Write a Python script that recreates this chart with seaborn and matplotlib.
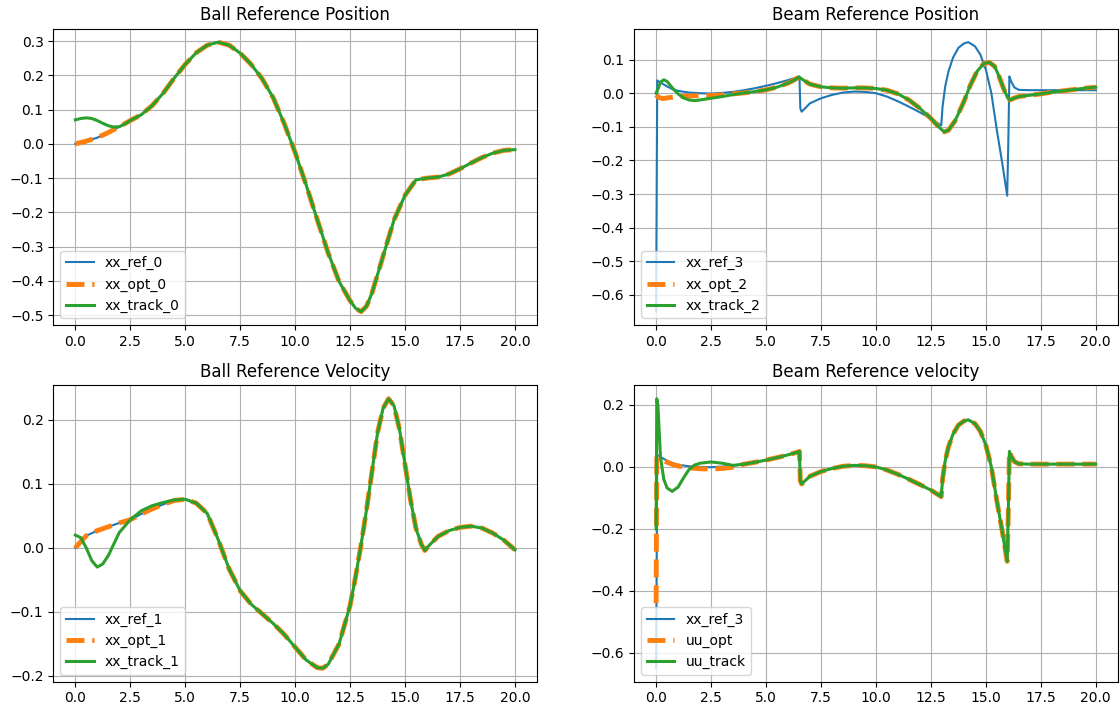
import matplotlib
matplotlib.use("Agg")
import matplotlib.pyplot as plt
import seaborn as sns

# ---------------- Ball position (top-left) ----------------
t_ball = [0, 0.5, 1, 1.5, 2, 2.5, 3, 3.5, 4, 4.5, 5, 5.5, 6, 6.5, 7, 7.5, 8, 8.5, 9, 9.5,
          10, 10.5, 11, 11.5, 12, 12.5, 12.75, 13, 13.25, 13.5, 14, 14.5, 15, 15.5, 16, 16.5,
          17, 17.5, 18, 18.5, 19, 19.5, 20]
xx_ref_0 = [0.0, 0.008, 0.018, 0.033, 0.05, 0.068, 0.085, 0.112, 0.148, 0.192, 0.232, 0.266,
            0.288, 0.297, 0.288, 0.265, 0.232, 0.19, 0.135, 0.06, -0.025, -0.12, -0.22,
            -0.318, -0.402, -0.458, -0.48, -0.49, -0.474, -0.435, -0.328, -0.222, -0.15,
            -0.105, -0.1, -0.097, -0.088, -0.073, -0.056, -0.04, -0.027, -0.019, -0.017]
xx_opt_0 = list(xx_ref_0)
t_track0_start = [0, 0.25, 0.5, 0.75, 1.0, 1.25, 1.5, 1.75, 2.0, 2.25]
xx_track_0_start = [0.07, 0.074, 0.076, 0.074, 0.068, 0.06, 0.053, 0.049, 0.05, 0.058]

# ---------------- Ball velocity (bottom-left) ----------------
t_vel = [0, 0.25, 0.5, 1.0, 1.5, 2.0, 2.5, 3.0, 3.5, 4.0, 4.5, 5.0, 5.5, 6.0, 6.5, 7.0, 7.5,
         8.0, 8.5, 9.0, 9.5, 10.0, 10.5, 11.0, 11.25, 11.5, 12.0, 12.5, 12.75, 13.0, 13.25,
         13.5, 13.75, 14.0, 14.25, 14.5, 14.75, 15.0, 15.25, 15.5, 15.75, 15.9, 16.1, 16.5,
         17.0, 17.5, 18.0, 18.5, 19.0, 19.5, 20.0]
xx_ref_1 = [0.0, 0.01, 0.019, 0.027, 0.033, 0.039, 0.044, 0.053, 0.061, 0.068, 0.074, 0.076,
            0.07, 0.054, 0.013, -0.033, -0.067, -0.088, -0.103, -0.118, -0.135, -0.155,
            -0.175, -0.187, -0.188, -0.182, -0.15, -0.09, -0.045, 0.005, 0.06, 0.12, 0.18,
            0.218, 0.233, 0.222, 0.185, 0.13, 0.075, 0.03, 0.005, -0.004, 0.004, 0.018, 0.027,
            0.032, 0.034, 0.031, 0.023, 0.012, -0.003]
xx_opt_1 = list(xx_ref_1)
t_track1_start = [0, 0.25, 0.5, 0.75, 1.0, 1.25, 1.5, 1.75, 2.0, 2.5, 3.0, 3.5, 4.0, 4.5]
xx_track_1_start = [0.02, 0.016, 0.0, -0.02, -0.03, -0.025, -0.012, 0.006, 0.024, 0.044,
                    0.058, 0.066, 0.071, 0.075]

# ---------------- Beam reference (shared by right panels) ----------------
t_ref3 = [0, 0.05, 0.25, 0.5, 0.75, 1.0, 1.5, 2.0, 2.5, 3.0, 3.5, 4.0, 4.5, 5.0, 5.5, 6.0,
          6.45, 6.52, 6.56, 6.62, 7.0, 7.5, 8.0, 8.5, 9.0, 9.5, 10.0, 10.5, 11.0, 11.5, 12.0,
          12.5, 12.97, 13.03, 13.15, 13.3, 13.5, 13.75, 14.0, 14.2, 14.5, 14.75, 15.0, 15.25,
          15.5, 15.75, 15.97, 16.02, 16.07, 16.15, 16.3, 16.5, 17.0, 18.0, 19.0, 20.0]
xx_ref_3 = [-0.65, 0.038, 0.03, 0.02, 0.012, 0.007, 0.002, 0.0, -0.001, 0.001, 0.004, 0.009,
            0.015, 0.022, 0.03, 0.039, 0.048, 0.05, -0.045, -0.055, -0.03, -0.015, -0.005,
            0.002, 0.005, 0.004, 0.0, -0.01, -0.024, -0.04, -0.057, -0.075, -0.096, -0.04,
            0.02, 0.065, 0.105, 0.135, 0.148, 0.152, 0.14, 0.115, 0.07, 0.0, -0.11, -0.21,
            -0.305, -0.15, 0.05, 0.035, 0.017, 0.01, 0.009, 0.009, 0.009, 0.009]

# ---------------- Beam position optimal / tracking (top-right) ----------------
t_beam = [0, 0.1, 0.3, 0.6, 1.0, 1.5, 2.0, 2.5, 3.0, 3.5, 4.0, 4.5, 5.0, 5.5, 6.0, 6.3, 6.5,
          6.75, 7.0, 7.5, 8.0, 8.5, 9.0, 9.5, 10.0, 10.5, 11.0, 11.5, 12.0, 12.5, 12.85, 13.1,
          13.3, 13.6, 14.0, 14.3, 14.6, 14.9, 15.15, 15.4, 15.6, 15.8, 16.0, 16.1, 16.3, 16.5,
          17.0, 17.5, 18.0, 18.5, 19.0, 19.5, 20.0]
xx_opt_2 = [-0.005, -0.012, -0.016, -0.013, -0.01, -0.008, -0.007, -0.007, -0.005, -0.002,
            0.001, 0.005, 0.01, 0.018, 0.03, 0.04, 0.048, 0.037, 0.027, 0.019, 0.016, 0.015,
            0.016, 0.016, 0.014, 0.009, -0.002, -0.02, -0.045, -0.075, -0.1, -0.115, -0.11,
            -0.082, -0.025, 0.025, 0.065, 0.088, 0.092, 0.08, 0.05, 0.015, -0.015, -0.02,
            -0.014, -0.01, -0.006, -0.002, 0.003, 0.007, 0.011, 0.015, 0.018]
t_track2_start = [0, 0.1, 0.2, 0.35, 0.5, 0.75, 1.0, 1.25, 1.5, 1.75, 2.0, 2.5, 3.0, 3.5]
xx_track_2_start = [0.0, 0.015, 0.033, 0.04, 0.035, 0.015, -0.002, -0.014, -0.02, -0.022,
                    -0.02, -0.015, -0.01, -0.004]

# ---------------- Beam velocity / input (bottom-right) ----------------
t_uopt_start = [0, 0.03, 0.1, 0.25, 0.5, 0.75, 1.0, 1.5, 2.0, 2.5, 3.0, 3.5]
uu_opt_start = [-0.44, 0.03, 0.028, 0.022, 0.015, 0.008, 0.003, -0.003, -0.006, -0.007,
                -0.005, -0.001]
t_utrack_start = [0, 0.03, 0.08, 0.2, 0.35, 0.5, 0.73, 1.0, 1.25, 1.5, 1.75, 2.0, 2.5, 3.0, 3.5]
uu_track_start = [-0.2, 0.22, 0.2, 0.03, -0.04, -0.068, -0.079, -0.065, -0.035, -0.008,
                  0.006, 0.012, 0.016, 0.012, 0.005]


def tail(t, v, t0):
    return [a for a in t if a >= t0], [b for a, b in zip(t, v) if a >= t0]


C_REF, C_OPT, C_TRK = "#1f77b4", "#ff7f0e", "#2ca02c"


def draw(ax, title, tr, vr, lr, to, vo, lo, tt, vt, lt):
    sns.lineplot(x=tr, y=vr, ax=ax, color=C_REF, linewidth=1.5, label=lr,
                 estimator=None, sort=False)
    sns.lineplot(x=to, y=vo, ax=ax, color=C_OPT, linewidth=3.5, linestyle="--", label=lo,
                 estimator=None, sort=False)
    sns.lineplot(x=tt, y=vt, ax=ax, color=C_TRK, linewidth=2.2, label=lt,
                 estimator=None, sort=False)
    ax.set_title(title, fontsize=12)
    ax.grid(True, color="#b0b0b0", linewidth=0.8)
    ax.set_xlabel("")
    ax.set_ylabel("")
    ax.legend(loc="lower left", fontsize=10)
    ax.set_xticks([0, 2.5, 5, 7.5, 10, 12.5, 15, 17.5, 20])
    ax.set_xticklabels(["0.0", "2.5", "5.0", "7.5", "10.0", "12.5", "15.0", "17.5", "20.0"])


fig, axes = plt.subplots(2, 2, figsize=(11.2, 7.08), dpi=100)
fig.subplots_adjust(left=0.0476, right=0.998, bottom=0.0371, top=0.9595,
                    wspace=0.201, hspace=0.203)

# Top-left
tt0, vt0 = tail(t_ball, xx_ref_0, 2.5)
draw(axes[0, 0], "Ball Reference Position",
     t_ball, xx_ref_0, "xx_ref_0",
     t_ball, xx_opt_0, "xx_opt_0",
     t_track0_start + tt0, xx_track_0_start + vt0, "xx_track_0")

# Bottom-left
tt1, vt1 = tail(t_vel, xx_ref_1, 5.0)
draw(axes[1, 0], "Ball Reference Velocity",
     t_vel, xx_ref_1, "xx_ref_1",
     t_vel, xx_opt_1, "xx_opt_1",
     t_track1_start + tt1, xx_track_1_start + vt1, "xx_track_1")

# Top-right
tt2, vt2 = tail(t_beam, xx_opt_2, 4.0)
draw(axes[0, 1], "Beam Reference Position",
     t_ref3, xx_ref_3, "xx_ref_3",
     t_beam, xx_opt_2, "xx_opt_2",
     t_track2_start + tt2, xx_track_2_start + vt2, "xx_track_2")

# Bottom-right
tu, vu = tail(t_ref3, xx_ref_3, 4.0)
draw(axes[1, 1], "Beam Reference velocity",
     t_ref3, xx_ref_3, "xx_ref_3",
     t_uopt_start + tu, uu_opt_start + vu, "uu_opt",
     t_utrack_start + tu, uu_track_start + vu, "uu_track")

fig.savefig("out.png", dpi=100)
